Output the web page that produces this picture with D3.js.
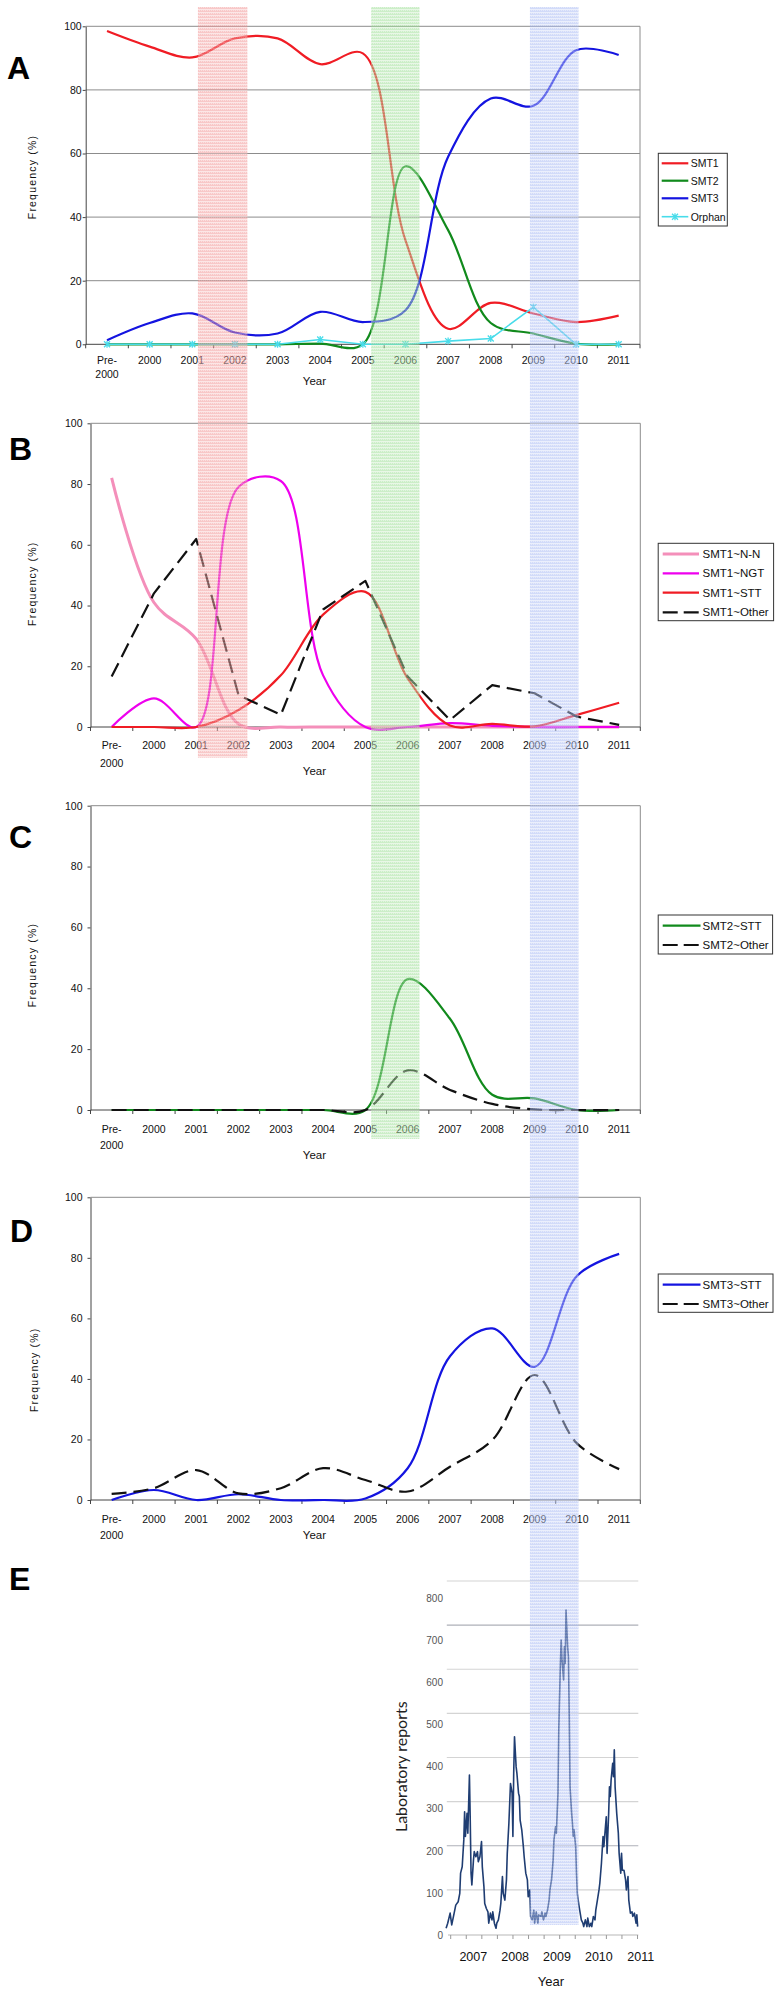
<!DOCTYPE html>
<html><head><meta charset="utf-8">
<script src="https://cdn.jsdelivr.net/npm/d3@7"></script>
<style>body{margin:0;background:#fff} svg{display:block}</style>
</head><body><svg id="c" width="780" height="1991"></svg>
<script>
// ---------------- DATA ----------------
const categories = ["Pre-2000","2000","2001","2002","2003","2004","2005","2006","2007","2008","2009","2010","2011"];
const yTicks = [0,20,40,60,80,100];
// Panel A
const smt1   = [98.5,93.6,90.2,96.2,96.2,88.1,91.5,32.7,4.9,13,9.7,7,9];
const smt2   = [0,0,0,0,0,0.2,0,56,35.9,6.7,3.4,0.2,0];
const smt3   = [1.3,6.7,9.7,3.7,3.4,10.2,7,10.7,59,77.3,75,92.5,91];
const orphan = [0,0,0,0,0,1.5,0,0,1,1.8,11.7,0,0];
// Panel B
const smt1NN    = [82,41,29,1,0,0,0,0,0,0,0,0,0];
const smt1NGT   = [0,9.4,0,79,81,17,0,0,1.3,0.4,0,0,0];
const smt1STT   = [0,0,0,5.6,17,37,44.5,16,0.5,1,0.2,4,8];
const smt1Other = [16.6,44,61.9,10.5,4,38.7,48.1,16.6,2.3,13.8,11.1,3.4,0.7];
// Panel C
const smt2STT   = [0,0,0,0,0,0,0,43,30,5,3.8,0,0];
const smt2Other = [0,0,0,0,0,0,0,13,6.6,2,0.2,0,0];
// Panel D
const smt3STT   = [0,3.3,0,1.9,0,0,0.5,10.5,47.5,56.7,44,74,81.3];
const smt3Other = [2,3.9,9.9,2.2,3.9,10.5,6.6,2.8,11,19.8,41.3,18.7,10.2];
// Panel E (weekly laboratory reports; week index from start, value)
const eStartYear = 2006.35;
const eYearTicks = [2007,2008,2009,2010,2011];
const eYTicks = [0,100,200,300,400,500,600,700,800];
const eWeek = [0,2,5,7,10,12,15,17,18,20,22,23,24,26,27,29,30,31,32,34,35,37,39,40,42,44,45,47,48,50,52,53,55,57,58,60,62,63,65,67,68,70,71,73,75,76,78,80,82,83,84,85,87,88,90,91,92,94,96,97,99,101,102,104,105,107,109,110,112,114,115,
  118,119,121,123,124,126,128,129,131,133,134,136,137,138,139,140,142,143,144,146,147,148,149,151,152,153,154,156,157,158,159,161,162,163,165,166,168,170,171,173,175,176,178,180,181,183,185,186,188,190,191,193,195,196,198,199,200,202,203,204,205,207,208,209,210,212,214,215,217,218,219,221,223,224,226,227,229,231,232,234,236,237,238];
const eReports = [16,28,52,24,52,71,79,99,147,162,226,293,234,289,242,380,273,147,119,178,198,186,198,174,186,222,162,115,75,63,55,28,52,36,55,28,16,28,36,59,75,139,99,83,131,194,265,360,337,234,384,471,400,384,337,329,273,250,210,186,147,131,91,107,44,36,59,28,55,28,48,
  44,55,36,52,44,59,83,107,131,178,226,257,242,289,337,487,645,701,653,606,685,645,772,685,661,527,352,289,265,234,250,210,147,99,71,59,36,28,20,36,20,40,20,28,20,44,36,59,83,107,123,170,234,210,257,281,194,289,352,329,368,408,376,440,352,289,242,194,147,194,154,154,131,107,139,83,52,55,44,52,28,48,20];
// Highlight periods, in category units (0 = left edge of "Pre-2000")
const bandFrom = [2.54, 6.635, 10.39];
const bandTo   = [3.71, 7.78, 11.54];

// ---------------- LAYOUT / STYLE ----------------
const FONT = '"Liberation Sans", Arial, Helvetica, sans-serif';
const RED="#f01c24", GREEN="#118a1c", BLUE="#1414e0", CYAN="#48dcea", PINK="#f48fba", MAG="#ee00ee", BLACK="#111";
const svg = d3.select("#c");

const panels = [
 {letter:"A", lx:7, ly:79, left:85.7, right:640, top:26.3, bottom:344.3, grid:[20,40,60,80], pad:1,
  tx:32.3, ty:177, pre:15.7, l2:29.7, yr:36.7,
  leg:{x0:658.3,x1:727.3,y0:153.3,y1:226,rows:[163.3,180.7,198.3,216.7],s0:661.7,s1:688.3,t:690.7,fs:10.5},
  series:[{n:"SMT1",v:smt1,c:RED},{n:"SMT2",v:smt2,c:GREEN},{n:"SMT3",v:smt3,c:BLUE},{n:"Orphan",v:orphan,c:CYAN,lin:true,mark:true,w:1.6}]},
 {letter:"B", lx:9, ly:460, left:90.5, right:640.3, top:423.3, bottom:727, grid:[], pad:5,
  tx:32.3, ty:583.7, pre:18.7, l2:36.3, yr:43.7,
  leg:{x0:658.2,x1:773.6,y0:543.3,y1:620.7,rows:[554,573.3,592.7,612.3],s0:662.7,s1:699,t:702.5,fs:11.5},
  series:[{n:"SMT1~N-N",v:smt1NN,c:PINK,w:3},{n:"SMT1~NGT",v:smt1NGT,c:MAG},{n:"SMT1~STT",v:smt1STT,c:RED},{n:"SMT1~Other",v:smt1Other,c:BLACK,dash:true,lin:true}]},
 {letter:"C", lx:9, ly:848, left:90.5, right:640.3, top:805.7, bottom:1110, grid:[], pad:5,
  tx:32, ty:965, pre:19, l2:35.7, yr:45,
  leg:{x0:658.2,x1:772.6,y0:915,y1:954,rows:[925.7,945],s0:662.7,s1:700.5,t:702.5,fs:11.5},
  series:[{n:"SMT2~STT",v:smt2STT,c:GREEN},{n:"SMT2~Other",v:smt2Other,c:BLACK,dash:true}]},
 {letter:"D", lx:10, ly:1242, left:90.5, right:640.3, top:1197.3, bottom:1500, grid:[], pad:5,
  tx:34, ty:1369.8, pre:19, l2:35, yr:35,
  leg:{x0:658.2,x1:773,y0:1274,y1:1312.3,rows:[1284.7,1304],s0:662.7,s1:700.5,t:702.5,fs:11.5},
  series:[{n:"SMT3~STT",v:smt3STT,c:BLUE},{n:"SMT3~Other",v:smt3Other,c:BLACK,dash:true}]}
];

function drawPanel(p){
  const g = svg.append("g");
  const x = d3.scaleBand().domain(categories).range([p.left,p.right]).padding(0);
  const cx = c => x(c) + x.bandwidth()/2;
  const y = d3.scaleLinear().domain([0,100]).range([p.bottom,p.top]);
  g.selectAll("line.grid").data(p.grid).join("line")
    .attr("x1",p.left).attr("x2",p.right).attr("y1",d=>y(d)).attr("y2",d=>y(d))
    .attr("stroke","#8c8c8c").attr("stroke-width",1);
  g.append("path").attr("d",`M${p.left},${y(100)}H${p.right}V${y(0)}`)
    .attr("fill","none").attr("stroke","#8c8c8c").attr("stroke-width",1);
  // y axis
  g.append("g").attr("transform",`translate(${p.left},0)`)
    .call(d3.axisLeft(y).tickValues(yTicks).tickSize(3).tickSizeOuter(0).tickPadding(p.pad))
    .call(s=>{s.select(".domain").attr("stroke","#444");
      s.selectAll(".tick line").attr("stroke","#444");
      s.selectAll("text").attr("font-size",10.5).attr("font-family",FONT).attr("fill","#111");});
  // x axis
  g.append("line").attr("x1",p.left).attr("x2",p.right).attr("y1",y(0)).attr("y2",y(0)).attr("stroke","#444");
  const bounds = categories.map(c=>x(c)).concat([x(categories[categories.length-1])+x.bandwidth()]);
  g.selectAll("line.xt").data(bounds).join("line").attr("x1",d=>d).attr("x2",d=>d)
    .attr("y1",y(0)).attr("y2",y(0)+4).attr("stroke","#444");
  categories.forEach(c=>{
    const t = g.append("text").attr("font-family",FONT).attr("font-size",10.5).attr("fill","#111").attr("text-anchor","middle");
    if(c.startsWith("Pre-")){
      t.append("tspan").attr("x",cx(c)).attr("y",y(0)+p.pre+3.7).text("Pre-");
      t.append("tspan").attr("x",cx(c)).attr("y",y(0)+p.l2+3.7).text(c.slice(4));
    } else t.attr("x",cx(c)).attr("y",y(0)+p.pre+3.7).text(c);
  });
  g.append("text").attr("x",314.4).attr("y",y(0)+p.yr+4).attr("text-anchor","middle")
    .attr("font-family",FONT).attr("font-size",11.5).attr("fill","#111").text("Year");
  g.append("text").attr("transform",`translate(${p.tx},${p.ty}) rotate(-90)`).attr("text-anchor","middle")
    .attr("dominant-baseline","central").attr("font-family",FONT).attr("font-size",10.5)
    .attr("letter-spacing",1.2).attr("fill","#111").text("Frequency (%)");
  // series
  p.series.forEach(s=>{
    const line = d3.line().x((d,i)=>cx(categories[i])).y(d=>y(d))
      .curve(s.lin ? d3.curveLinear : d3.curveCatmullRom.alpha(0.5));
    g.append("path").datum(s.v).attr("d",line).attr("fill","none").attr("stroke",s.c)
      .attr("stroke-width",s.w||2.2).attr("stroke-linejoin","round")
      .attr("stroke-dasharray",s.dash?"15,7":null);
    if(s.mark){
      g.selectAll(null).data(s.v).join("path")
        .attr("transform",(d,i)=>`translate(${cx(categories[i])},${y(d)})`)
        .attr("d","M-3,-3L3,3M-3,3L3,-3M0,-3.5V3.5").attr("stroke",s.c).attr("stroke-width",1.3).attr("fill","none");
    }
  });
  // legend
  const L = p.leg;
  g.append("rect").attr("x",L.x0).attr("y",L.y0).attr("width",L.x1-L.x0).attr("height",L.y1-L.y0)
    .attr("fill","#fff").attr("stroke","#333").attr("stroke-width",1);
  p.series.forEach((s,i)=>{
    const ry = L.rows[i];
    g.append("line").attr("x1",L.s0).attr("x2",L.s1).attr("y1",ry).attr("y2",ry).attr("stroke",s.c)
      .attr("stroke-width",s.w||2.2).attr("stroke-dasharray",s.dash?"15,6":null);
    if(s.mark) g.append("path").attr("transform",`translate(${(L.s0+L.s1)/2},${ry})`)
      .attr("d","M-3,-3L3,3M-3,3L3,-3M0,-3.5V3.5").attr("stroke",s.c).attr("stroke-width",1.3);
    g.append("text").attr("x",L.t).attr("y",ry).attr("dominant-baseline","central")
      .attr("font-family",FONT).attr("font-size",L.fs).attr("fill","#111").text(s.n);
  });
  g.append("text").attr("x",p.lx).attr("y",p.ly).attr("font-family",FONT).attr("font-weight","bold")
    .attr("font-size",32).attr("fill","#000").text(p.letter);
}
panels.forEach(drawPanel);

// ---------------- PANEL E ----------------
(function(){
  const g = svg.append("g");
  const yE = d3.scaleLinear().domain([0,800]).range([1935,1598.3]);
  const yGrid = d3.scaleLinear().domain([0,800]).range([1934,1581]);
  const xE = d3.scaleLinear().domain([2007,2011]).range([473.3,473.3+4*41.85]);
  const gx0 = 446.8, gx1 = 638.3;
  g.selectAll("line.eg").data(eYTicks.slice(1)).join("line")
    .attr("x1",gx0).attr("x2",gx1).attr("y1",d=>yGrid(d)).attr("y2",d=>yGrid(d))
    .attr("stroke",d=>(d===700||d===200)?"#aeb0b8":"#d4d4d4").attr("stroke-width",1.2);
  g.append("g").attr("transform",`translate(446,0)`)
    .call(d3.axisLeft(yE).tickValues(eYTicks).tickSize(0).tickPadding(3))
    .call(s=>{s.select(".domain").remove();
      s.selectAll("text").attr("font-size",10).attr("font-family",FONT).attr("fill","#555");});
  g.append("line").attr("x1",448).attr("x2",gx1).attr("y1",yE(0)).attr("y2",yE(0)).attr("stroke","#b8b8b8").attr("stroke-width",1.2);
  const eMinor = d3.range(0,13).map(i=>2006.46+i*0.372);
  g.selectAll("line.et").data(eMinor).join("line").attr("x1",d=>xE(d)).attr("x2",d=>xE(d))
    .attr("y1",yE(0)).attr("y2",yE(0)+4).attr("stroke","#999");
  g.selectAll("text.ex").data(eYearTicks).join("text").attr("x",d=>xE(d)).attr("y",1960.5)
    .attr("text-anchor","middle").attr("font-family",FONT).attr("font-size",12.5).attr("fill","#111").text(d=>d);
  g.append("text").attr("x",551).attr("y",1986).attr("text-anchor","middle")
    .attr("font-family",FONT).attr("font-size",13).attr("fill","#111").text("Year");
  g.append("text").attr("transform","translate(400.5,1766.7) rotate(-90)").attr("text-anchor","middle")
    .attr("dominant-baseline","central").attr("font-family","Lato, 'Open Sans', sans-serif")
    .attr("font-size",16).attr("fill","#222").text("Laboratory reports");
  const pts = eWeek.map((w,i)=>({t:eStartYear+w/52, v:eReports[i]}));
  g.append("path").datum(pts).attr("d",d3.line().x(d=>xE(d.t)).y(d=>yE(d.v)))
    .attr("fill","none").attr("stroke","#1f3d72").attr("stroke-width",1.6).attr("stroke-linejoin","round");
  g.append("text").attr("x",9).attr("y",1590).attr("font-family",FONT).attr("font-weight","bold")
    .attr("font-size",32).attr("fill","#000").text("E");
})();

// ---------------- HIGHLIGHT BANDS ----------------
(function(){
  const bandColors = ["#f09090","#98dc90","#a4b6f2"];
  const bandBottom = [757.7, 1139, 1925];
  const xb = d3.scaleLinear().domain([0,categories.length]).range([90.5,640.3]);
  const defs = svg.append("defs");
  bandColors.forEach((c,i)=>{
    const p = defs.append("pattern").attr("id","bp"+i).attr("width",2).attr("height",3).attr("patternUnits","userSpaceOnUse");
    p.append("rect").attr("width",2).attr("height",3).attr("fill",c);
    p.append("rect").attr("width",2).attr("height",1).attr("fill","#fff").attr("opacity",0.55);
    p.append("rect").attr("x",1).attr("y",1).attr("width",1).attr("height",1).attr("fill","#fff").attr("opacity",0.4);
  });
  svg.append("g").attr("opacity",0.5).selectAll("rect").data(bandFrom).join("rect")
    .attr("x",(d)=>xb(d)).attr("width",(d,i)=>xb(bandTo[i])-xb(d))
    .attr("y",7).attr("height",(d,i)=>bandBottom[i]-7)
    .attr("fill",(d,i)=>`url(#bp${i})`);
})();
</script></body></html>
